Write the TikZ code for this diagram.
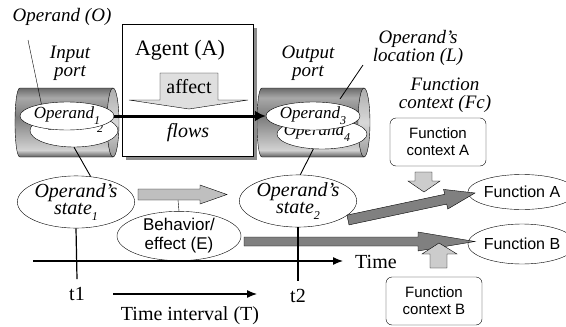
\documentclass[tikz,border=0pt]{standalone}
\usepackage{fontspec}
\setmainfont{Liberation Serif}
\setsansfont{Liberation Sans}
\usetikzlibrary{shapes.geometric}
\usetikzlibrary{arrows.meta}

% lowered index as in the drawing
\newcommand\sub[1]{\raisebox{-6pt}{\fontsize{12}{12}\selectfont #1}}

\definecolor{cylEdge}{HTML}{5E5E5E}
\definecolor{cylLow}{HTML}{D2D2D2}
\definecolor{cylMid}{HTML}{7C7C7C}
\definecolor{cylHigh}{HTML}{A8A8A8}
\definecolor{cylTop}{HTML}{6A6A6A}

% body of a lying cylinder (bottom at 25bp, top at 75bp)
\pgfdeclareverticalshading{cylbody}{100bp}{%
  color(0bp)=(cylEdge); color(25bp)=(cylEdge);
  color(30bp)=(cylLow); color(42bp)=(cylHigh);
  color(54bp)=(cylMid); color(68bp)=(cylHigh);
  color(75bp)=(cylTop); color(100bp)=(cylTop)}

\tikzset{
  lbl/.style={font=\fontsize{19}{18}\selectfont\itshape, align=center, inner sep=0pt},
  opnd/.style={ellipse, draw, fill=white, inner sep=0pt, minimum width=90pt, minimum height=28pt, font=\fontsize{17}{17}\selectfont\itshape},
  hidtxt/.style={anchor=base, inner sep=0pt, font=\fontsize{17}{17}\selectfont\itshape},
  statenode/.style={ellipse, draw, fill=white, inner sep=0pt, minimum width=106pt, minimum height=42pt, align=center, font=\fontsize{20}{17}\selectfont\itshape},
  funcnode/.style={ellipse, draw, fill=white, inner sep=0pt, minimum width=90pt, font=\sffamily\fontsize{16}{16}\selectfont},
  ctxbox/.style={draw, rounded corners=6pt, fill=white, align=center, inner sep=0pt, minimum width=96pt, minimum height=48pt, font=\sffamily\fontsize{15}{17}\selectfont},
  plain/.style={inner sep=0pt, font=\fontsize{20}{20}\selectfont},
}

% port drawn as a lying cylinder: #1 left end, #2 right cap
\newcommand\portcyl[2]{%
  \shade[shading=cylbody]
    (#1+5,88) .. controls (#1-1.7,88) and (#1-1.7,157) .. (#1+5,157) -- (#2,157) -- (#2,88) -- cycle;
  \draw (#2,88) -- (#1+5,88) .. controls (#1-1.7,88) and (#1-1.7,157) .. (#1+5,157) -- (#2,157);
  \shadedraw[top color=gray!65, bottom color=gray!80, middle color=gray!30] (#2,122.5) ellipse [x radius=6, y radius=34.5];
}

\begin{document}
\begin{tikzpicture}[x=1pt, y=-1pt]
\useasboundingbox (0,0) rectangle (566,327);

% labels on top
\node[lbl] (opO) at (62,17) {Operand (O)};
\node[lbl] (inPort) at (70,63) {Input\\port};
\node[lbl] (outPort) at (308,63) {Output\\port};
\node[lbl] (locLbl) at (418,48) {Operand's\\location (L)};
\node[lbl] (fcLbl) at (445,95) {Function\\context (Fc)};

% the two ports
\portcyl{15}{113}
\portcyl{257}{364}

% operands in the input port
\node[opnd, minimum width=88pt, minimum height=33pt] (op2) at (74,130.5) {};
\node[hidtxt] (op2txt) at (70,126) {Operand\sub{2}};
\node[opnd] (op1) at (67,116) {Operand\sub{1}};

% operands in the output port
\node[opnd, minimum width=90pt, minimum height=30pt] (op4) at (322,134) {};
\node[hidtxt] (op4txt) at (317,135) {Operand\sub{4}};
\node[opnd, minimum width=92pt] (op3) at (313,116) {Operand\sub{3}};

% leaders
\coordinate (oTail) at (28,40);
\draw (oTail) -- (op1.155);
\coordinate (locTail) at (363,65);
\coordinate (rcyl) at (340,99);
\draw[line width=0.8pt] (locTail) -- (rcyl);

% agent box with shadow
\fill[gray!90] (126,28) rectangle (257,160);
\node[draw, fill=white, minimum width=131pt, minimum height=132pt, inner sep=0pt] (agent) at (187.5,90) {};
\node[plain, font=\fontsize{22}{22}\selectfont] (agentLbl) at (180,50) {Agent (A)};
\draw[fill=gray!25] (160,73) -- (218,73) -- (218,100) -- (248,100) -- (189,109) -- (129,100) -- (160,100) -- cycle;
\node[plain] (affect) at (189,87) {affect};
\node[plain, font=\fontsize{20}{20}\selectfont\itshape] (flows) at (188,133) {flows};

% flow of operand through the agent
\draw[line width=3pt, -{Latex[length=11pt,width=11pt]}] (op1.east) -- (op3.west);

% states
\node[statenode] (state1) at (76,202) {Operand's\\state\sub{1}};
\node[statenode] (state2) at (298,201) {Operand's\\state\sub{2}};
\draw[line width=0.9pt] (op2.south) -- (state1.60);
\draw[line width=0.9pt] (op4.240) -- (state2.85);

% change of state
\draw[fill=gray!50] (138,189) -- (200,189) -- (200,185) -- (227,194.5) -- (200,204) -- (200,200) -- (138,200) -- cycle;
\coordinate (flowMid) at (178,200);
\node[statenode, minimum width=124pt, font=\sffamily\fontsize{17}{19}\selectfont] (beh) at (179,236) {Behavior/\\effect (E)};
\draw (flowMid) -- (beh.north);

% functions
\node[funcnode, minimum height=35pt] (funcA) at (522,192) {Function A};
\node[funcnode, minimum height=40pt] (funcB) at (522,244) {Function B};
\draw[fill=gray] (347,215.1) -- (444.7,194.3) -- (443.6,189.4) -- (475,193) -- (447.8,209) -- (446.7,204.1) -- (349,224.9) -- cycle;
\draw[fill=gray] (244,237) -- (418,237) -- (418,232) -- (475,241.5) -- (418,251) -- (418,246) -- (244,246) -- cycle;

% function contexts
\node[ctxbox] (ctxA) at (438,142) {Function\\context A};
\node[ctxbox] (ctxB) at (434,301) {Function\\context B};
\draw[fill=gray!40] (415,172) -- (432,172) -- (432,181) -- (440,181) -- (424,192) -- (408,181) -- (415,181) -- cycle;
\draw[fill=gray!40] (430,268) -- (447,268) -- (447,254) -- (457,254) -- (439,243) -- (422,254) -- (430,254) -- cycle;

% time axis
\coordinate (tStart) at (33,261);
\coordinate (tEnd) at (343,261);
\draw[line width=1.2pt, -{Latex[length=10pt,width=8pt]}] (tStart) -- (tEnd);
\node[plain, anchor=west] (timeLbl) at (355,262) {Time};
\node[plain] (t1) at (77,294) {t1};
\node[plain] (t2) at (298,296) {t2};
\draw[line width=1.2pt] (state1.south) -- ([yshift=8pt]t1.north);
\draw[line width=1.2pt] (state2.south) -- ([yshift=8pt]t2.north);

% time interval
\coordinate (iStart) at (113,294);
\coordinate (iEnd) at (257,294);
\draw[line width=1.2pt, -{Latex[length=10pt,width=8pt]}] (iStart) -- (iEnd);
\node[plain] (intLbl) at (190,316) {Time interval (T)};

\end{tikzpicture}
\end{document}
